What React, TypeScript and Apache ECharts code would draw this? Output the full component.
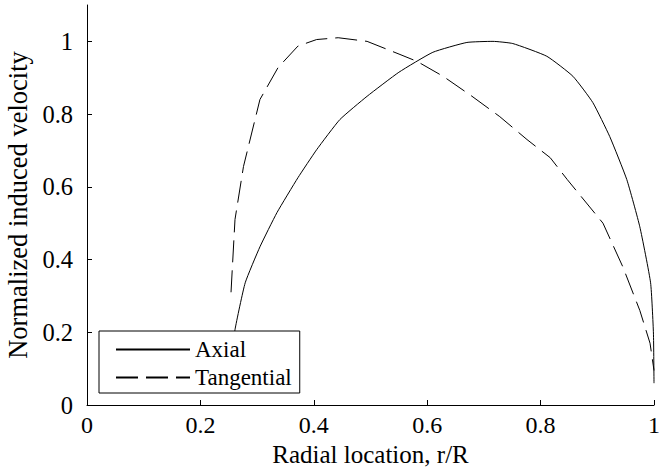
import React, { useEffect, useRef } from "react";
import * as echarts from "echarts";

const axialR = [0.255, 0.261, 0.279, 0.305, 0.335, 0.372, 0.405, 0.446, 0.494, 0.55, 0.61, 0.67, 0.716, 0.751, 0.811, 0.857, 0.892, 0.922, 0.952, 0.975, 0.994, 0.999, 1.0];
const axialV = [0.12, 0.207, 0.336, 0.435, 0.529, 0.625, 0.702, 0.785, 0.849, 0.915, 0.97, 0.997, 1.0, 0.994, 0.959, 0.904, 0.832, 0.738, 0.62, 0.49, 0.336, 0.198, 0.06];

const tangR = [0.254, 0.261, 0.276, 0.305, 0.337, 0.372, 0.405, 0.443, 0.494, 0.552, 0.582, 0.628, 0.679, 0.728, 0.776, 0.817, 0.847, 0.91, 0.945, 0.975, 0.993, 1.0];
const tangV = [0.31, 0.51, 0.656, 0.84, 0.928, 0.987, 1.005, 1.01, 1.0, 0.964, 0.945, 0.904, 0.849, 0.793, 0.73, 0.68, 0.62, 0.5, 0.38, 0.26, 0.17, 0.095];

const xTicks = [0, 0.2, 0.4, 0.6, 0.8, 1];
const yTicks = [0, 0.2, 0.4, 0.6, 0.8, 1];

const FONT = "Times New Roman, Liberation Serif, serif";

export default function App() {
  const ref = useRef<HTMLDivElement>(null);
  useEffect(() => {
    if (!ref.current) return;
    const chart = echarts.init(ref.current, undefined, { renderer: "svg" });
    const fmt = (v: number) => String(Math.round(v * 10) / 10);
    chart.setOption({
      animation: false,
      backgroundColor: "#fff",
      textStyle: { fontFamily: FONT },
      grid: { left: 87, right: 5, top: 5, bottom: 66, containLabel: false, outerBoundsMode: "none" },
      legend: {
        orient: "vertical",
        left: 99,
        top: 331,
        backgroundColor: "#fff",
        borderColor: "#000",
        borderWidth: 1,
        borderRadius: 0,
        padding: [7, 8, 4, 16],
        itemGap: 5,
        itemWidth: 74,
        itemHeight: 22,
        itemStyle: { color: "rgba(0,0,0,0)", borderWidth: 0, opacity: 0 },
        textStyle: { fontFamily: FONT, fontSize: 23, color: "#000", lineHeight: 22 },
        data: ["Axial", "Tangential"],
        z: 10,
      },
      xAxis: {
        type: "value",
        min: 0,
        max: 1,
        interval: 0.2,
        name: "Radial location, r/R",
        nameLocation: "middle",
        nameGap: 29,
        nameTextStyle: { fontFamily: FONT, fontSize: 25, color: "#000" },
        axisLine: { show: true, lineStyle: { color: "#000", width: 1 } },
        axisTick: { show: true, inside: true, length: 5, lineStyle: { color: "#000" }, customValues: xTicks },
        axisLabel: { fontFamily: FONT, fontSize: 24, color: "#000", margin: 8, formatter: fmt, customValues: xTicks },
        splitLine: { show: false },
      },
      yAxis: {
        type: "value",
        min: 0,
        max: 1.1,
        name: "Normalized induced velocity",
        nameLocation: "middle",
        nameGap: 43,
        nameTextStyle: { fontFamily: FONT, fontSize: 26.5, color: "#000" },
        axisLine: { show: true, lineStyle: { color: "#000", width: 1 } },
        axisTick: { show: true, inside: true, length: 5, lineStyle: { color: "#000" }, customValues: yTicks },
        axisLabel: { fontFamily: FONT, fontSize: 24.5, color: "#000", margin: 14, formatter: fmt, customValues: yTicks },
        splitLine: { show: false },
      },
      series: [
        {
          name: "Axial",
          type: "line",
          showSymbol: false,
          symbol: "none",
          smooth: 0.15,
          data: axialR.map((r, i) => [r, axialV[i]]),
          lineStyle: { color: "#000", width: 1, type: "solid" },
          itemStyle: { color: "#000" },
          z: 2,
        },
        {
          name: "Tangential",
          type: "line",
          showSymbol: false,
          symbol: "none",
          data: tangR.map((r, i) => [r, tangV[i]]),
          lineStyle: { color: "#000", width: 1, type: [22, 8] },
          itemStyle: { color: "#000" },
          z: 2,
        },
      ],
    });
    return () => chart.dispose();
  }, []);
  return <div ref={ref} style={{ width: 659, height: 471, position: "absolute", left: 0, top: 0 }} />;
}
